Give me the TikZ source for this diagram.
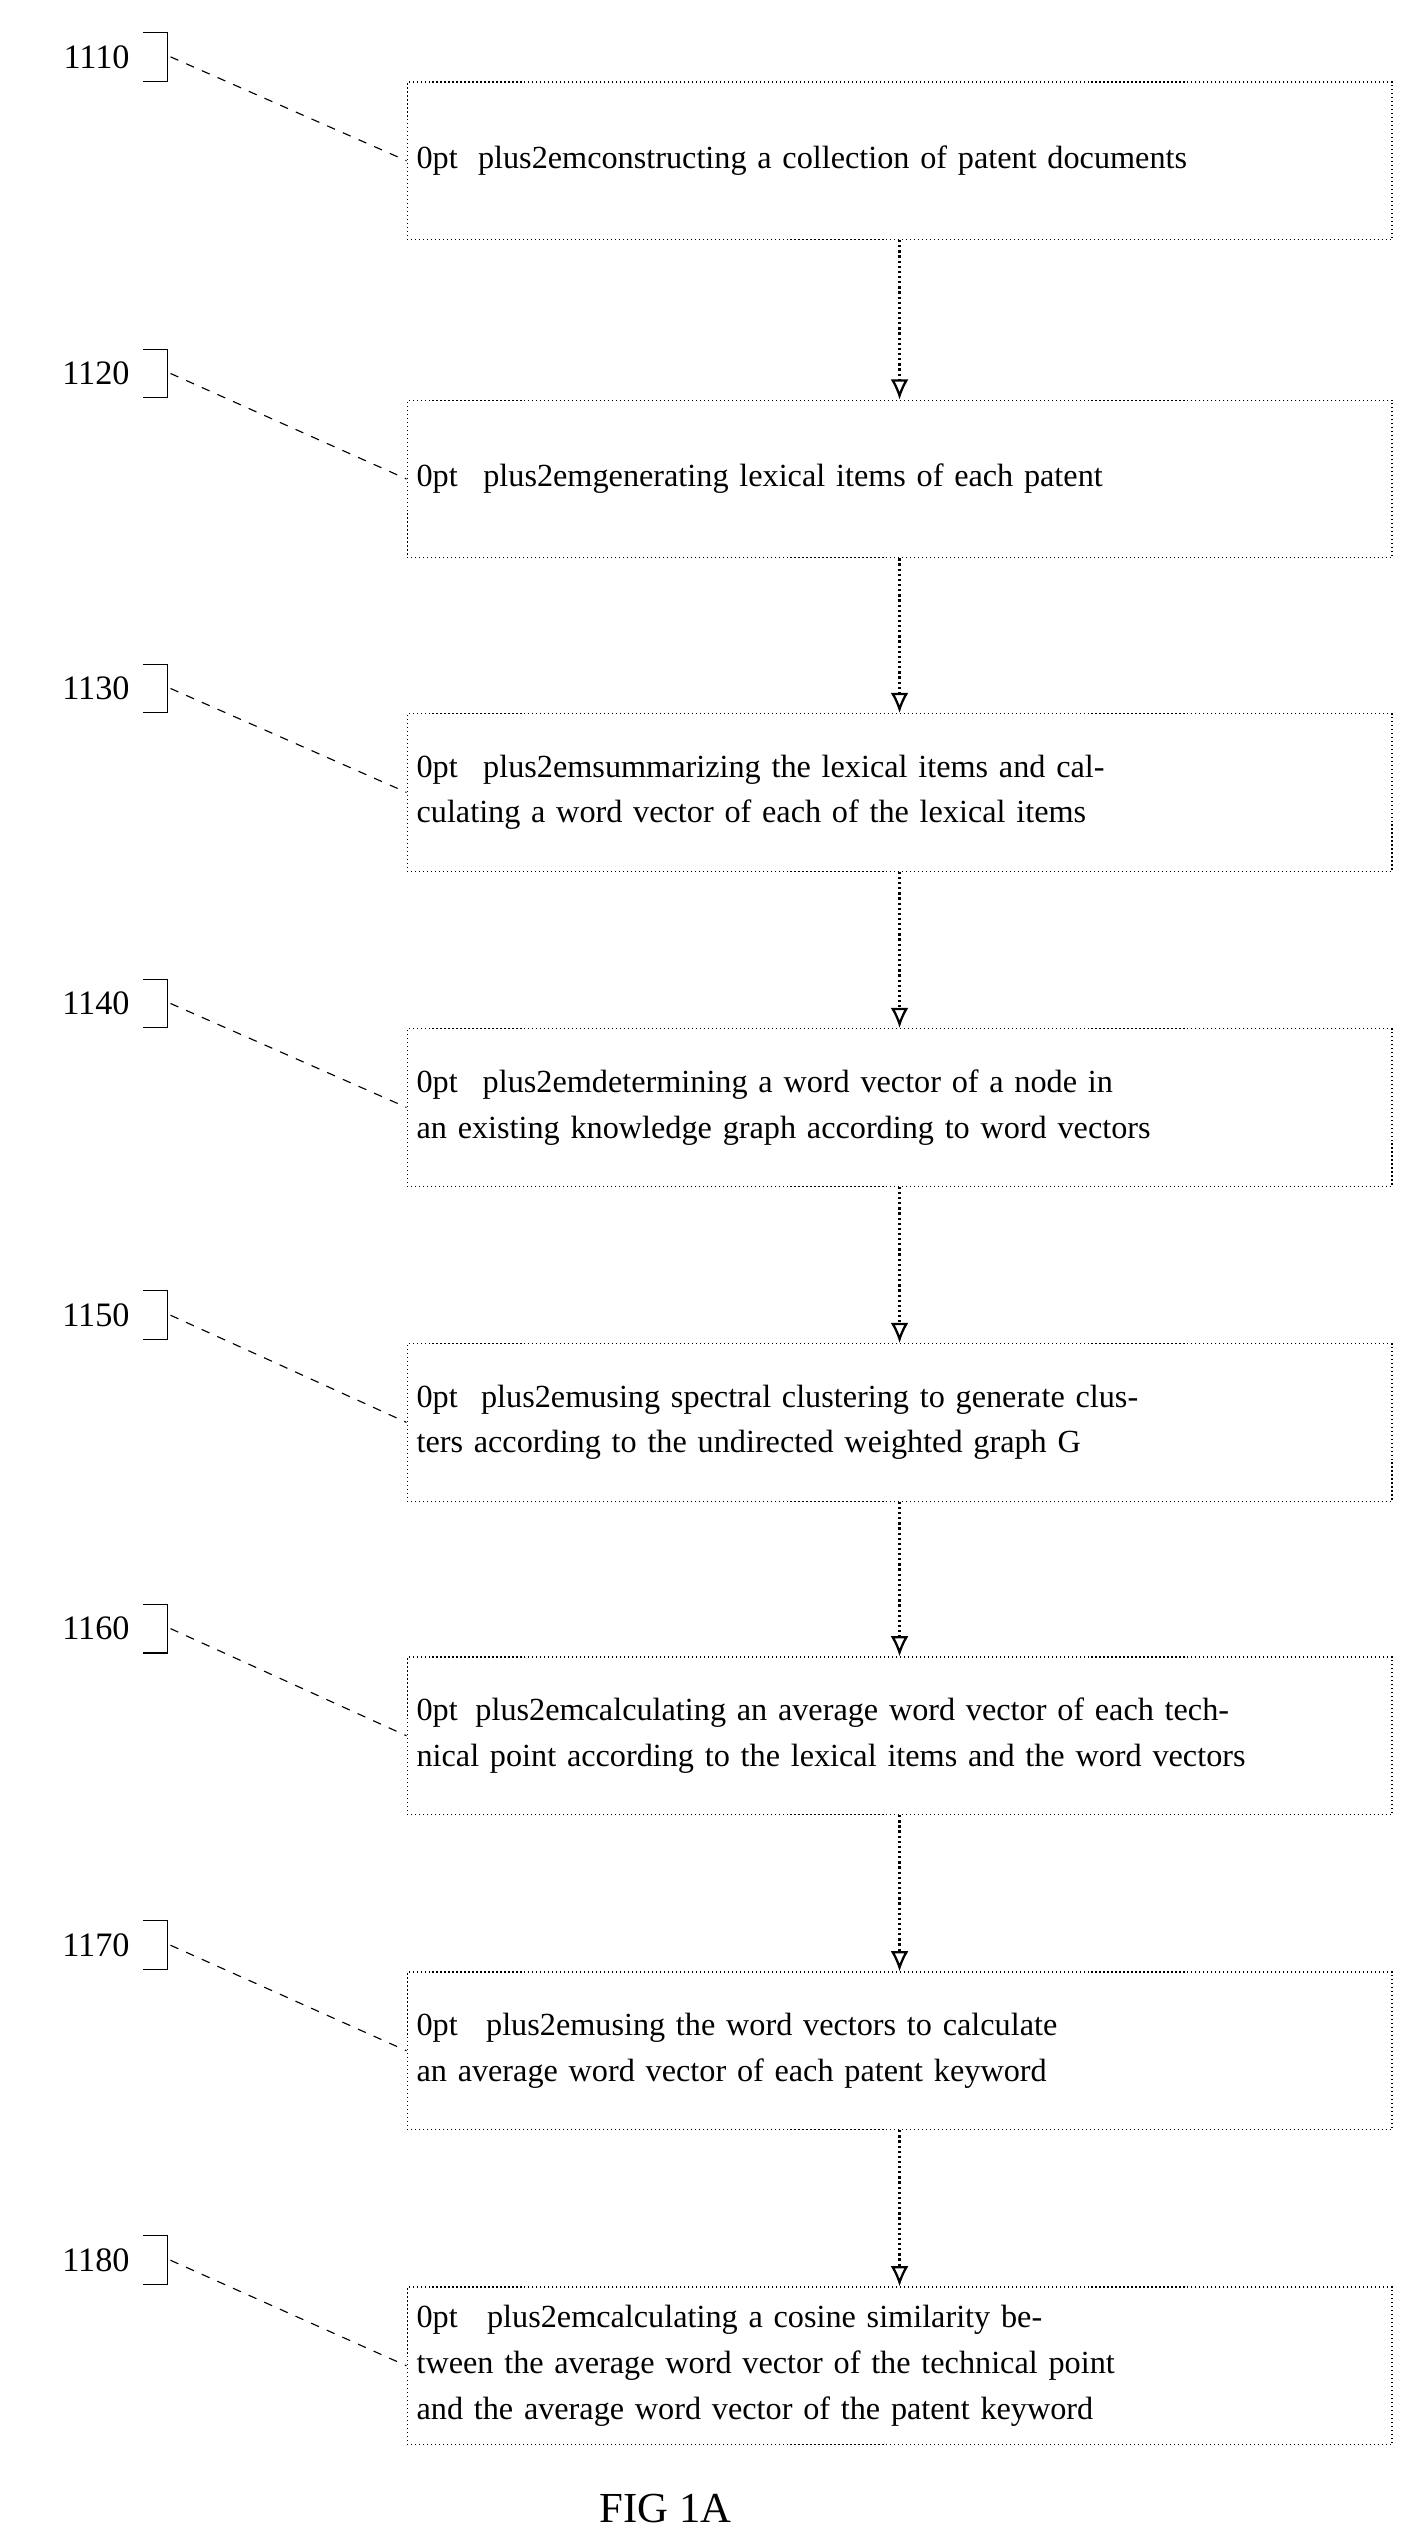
\documentclass[tikz,border=0pt]{standalone}
\usepackage{fontspec}
\setmainfont{Liberation Serif}
\usetikzlibrary{arrows.meta}

\begin{document}
\begin{tikzpicture}[x=0.02cm, y=-0.02cm,
    stepbox/.style={draw, densely dotted, thin, minimum width=12.04cm, minimum height=1.94cm,
      text width=11.9cm, align=center, font=\fontsize{11.3}{16}\selectfont\hyphenpenalty=10000\exhyphenpenalty=10000},
    flow/.style={densely dotted, thick, -{Latex[open, length=2.5mm, width=2.2mm]}},
    lead/.style={dashed, thin},
    tag/.style={font=\fontsize{12}{15}\selectfont}]
  % Frame
  \useasboundingbox (0,0) rectangle (866,1568);

  % Steps
  \node[stepbox] (s1) at (554,99)   {constructing a collection of patent documents};
  \node[stepbox] (s2) at (554,295)  {generating lexical items of each patent};
  \node[stepbox] (s3) at (554,488)  {summarizing the lexical items and calculating a word vector of each of the lexical items};
  \node[stepbox] (s4) at (554,682)  {determining a word vector of a node in an existing knowledge graph according to word vectors};
  \node[stepbox] (s5) at (554,876)  {using spectral clustering to generate clusters according to the undirected weighted graph G};
  \node[stepbox] (s6) at (554,1069) {calculating an average word vector of each technical point according to the lexical items and the word vectors};
  \node[stepbox] (s7) at (554,1263) {using the word vectors to calculate an average word vector of each patent keyword};
  \node[stepbox] (s8) at (554,1457) {calculating a cosine similarity between the average word vector of the technical point and the average word vector of the patent keyword};

  % Arrows
  \foreach \a/\b in {s1/s2,s2/s3,s3/s4,s4/s5,s5/s6,s6/s7,s7/s8}
    \draw[flow] (\a) -- (\b);

  % Reference numerals
  \foreach \i/\n/\y in {1/1110/35,2/1120/230,3/1130/424,4/1140/618,5/1150/810,6/1160/1003,7/1170/1198,8/1180/1392} {
    \node[tag, anchor=east] (t\i) at (86,\y) {\n};
    \draw[thin] (88,\y-15) -- (103,\y-15) -- (103,\y+15) -- (88,\y+15);
    \coordinate (c\i) at (105,\y);
    \draw[lead] (c\i) -- (s\i.west);
  }

  % Caption
  \node[font=\fontsize{15}{18}\selectfont] (cap) at (410,1545) {FIG 1A};
\end{tikzpicture}
\end{document}
